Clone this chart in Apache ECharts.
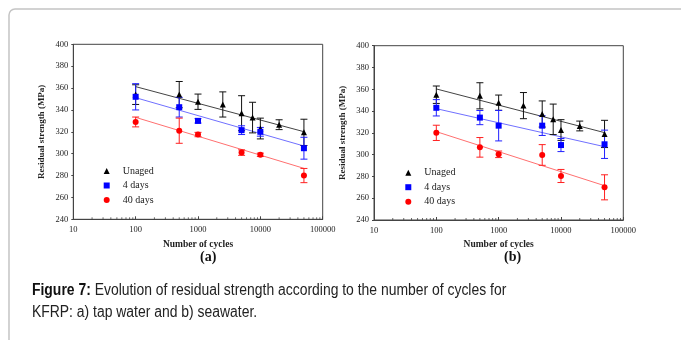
<!DOCTYPE html>
<html>
<head>
<meta charset="utf-8">
<script src="https://cdn.jsdelivr.net/npm/echarts@6/dist/echarts.min.js"></script>
<style>html,body{margin:0;padding:0;background:#fff;}#c{width:681px;height:340px;}</style>
</head>
<body>
<div id="c"></div>
<script>
// ---- data ----
const cyclesUnaged = [100, 500, 1000, 2500, 5000, 7500, 10000, 20000, 50000];
const cyclesAged = [100, 500, 1000, 5000, 10000, 50000];
const trendCycles = [100, 50000];

// (a) tap water
const unagedA = [354, 354, 347.5, 345, 337, 333, 323, 326.5, 319.5];
const unagedErrA = [9, 12, 7, 11.5, 16, 14, 9.5, 4.5, 12];
const days4A = [352, 342.5, 330, 321.5, 320, 305];
const days4ErrA = [12, 9, 2, 4, 4, 10];
const days40A = [329, 321, 317.5, 301, 299, 280];
const days40ErrA = [4.5, 11.5, 2, 2.5, 1.5, 6.5];
const trendUnagedA = [361.3, 320.1];
const trend4A = [351.2, 307.0];
const trend40A = [333.2, 286.6];

// (b) seawater
const unagedB = [355, 354, 347.7, 345, 337.3, 332.4, 322.6, 326.3, 319];
const unagedErrB = [8, 12, 7, 12, 12, 14, 9.5, 4.5, 12.5];
const days4B = [343, 334, 326.6, 326.6, 308.8, 309.5];
const days4ErrB = [7.5, 6.5, 14, 9, 6, 13];
const days40B = [320, 306.7, 300.3, 299.7, 280.4, 270];
const days40ErrB = [7, 9, 3, 9.5, 6, 11.5];
const trendUnagedB = [360.3, 320.2];
const trend4B = [342.2, 307.3];
const trend40B = [321.1, 271.5];

const seriesNames = ['Unaged', '4 days', '40 days'];
const xTickMin = 10, xTickMax = 100000;
const yMin = 240, yMax = 400, yStep = 20;
const minorTicks = [];
[10, 100, 1000, 10000].forEach(d => { for (let k = 2; k <= 9; k++) minorTicks.push(d * k); });

// ---- styles ----
const SERIF = "'Liberation Serif','Times New Roman',serif";
const SANS = "'Liberation Sans',Arial,sans-serif";
const COLORS = ['#000000', '#0000ff', '#ff0000'];
const BAR_COLORS = ['#111111', '#2020ff', '#ff2020'];
const TREND_COLORS = ['#444444', '#7070ff', '#ff7070'];
const SYMBOLS = ['triangle', 'rect', 'circle'];
const SYMSIZE = [6, 6, 6];

const zip = (xs, ys) => xs.map((x, i) => [x, ys[i]]);
const errData = (xs, ys, es) => xs.map((x, i) => [x, ys[i] - es[i], ys[i] + es[i]]);

function errSeries(idx, xs, ys, es, color) {
  return {
    type: 'custom', xAxisIndex: idx, yAxisIndex: idx, z: 3, silent: true,
    data: errData(xs, ys, es),
    encode: { x: 0, y: [1, 2] },
    renderItem: function (params, api) {
      const x = api.value(0);
      const lo = api.coord([x, api.value(1)]);
      const hi = api.coord([x, api.value(2)]);
      const h = 3.5;
      const st = { stroke: color, lineWidth: 1 };
      return {
        type: 'group', children: [
          { type: 'line', shape: { x1: lo[0], y1: lo[1], x2: hi[0], y2: hi[1] }, style: st },
          { type: 'line', shape: { x1: lo[0] - h, y1: lo[1], x2: lo[0] + h, y2: lo[1] }, style: st },
          { type: 'line', shape: { x1: hi[0] - h, y1: hi[1], x2: hi[0] + h, y2: hi[1] }, style: st }
        ]
      };
    }
  };
}
function minorTickSeries(idx) {
  return {
    type: 'custom', xAxisIndex: idx, yAxisIndex: idx, z: 5, silent: true,
    data: minorTicks.map(v => [v, yMin]),
    renderItem: function (params, api) {
      const p = api.coord([api.value(0), api.value(1)]);
      return { type: 'line', shape: { x1: p[0], y1: p[1], x2: p[0], y2: p[1] - 2 }, style: { stroke: '#444', lineWidth: 0.8 } };
    }
  };
}
function trendSeries(idx, vals, color) {
  return {
    type: 'line', xAxisIndex: idx, yAxisIndex: idx, z: 2, silent: true,
    data: zip(trendCycles, vals), showSymbol: false, symbol: 'none',
    lineStyle: { color: color, width: 1 }
  };
}
function scatterSeries(idx, si, xs, ys) {
  return {
    type: 'scatter', name: seriesNames[si], xAxisIndex: idx, yAxisIndex: idx, z: 4,
    symbol: SYMBOLS[si], symbolSize: SYMSIZE[si],
    itemStyle: { color: COLORS[si], opacity: 1 },
    data: zip(xs, ys)
  };
}
function panelSeries(idx, u, ue, d4, d4e, d40, d40e, tu, t4, t40) {
  return [
    trendSeries(idx, tu, TREND_COLORS[0]),
    trendSeries(idx, t4, TREND_COLORS[1]),
    trendSeries(idx, t40, TREND_COLORS[2]),
    errSeries(idx, cyclesUnaged, u, ue, BAR_COLORS[0]),
    errSeries(idx, cyclesAged, d4, d4e, BAR_COLORS[1]),
    errSeries(idx, cyclesAged, d40, d40e, BAR_COLORS[2]),
    scatterSeries(idx, 0, cyclesUnaged, u),
    scatterSeries(idx, 1, cyclesAged, d4),
    scatterSeries(idx, 2, cyclesAged, d40),
    minorTickSeries(idx)
  ];
}

const axisLine = { show: true, lineStyle: { color: '#444', width: 1 } };
const labelStyle = { fontFamily: SERIF, fontSize: 8.5, color: '#222' };
function xAxis(gi) {
  return {
    type: 'log', logBase: 10, gridIndex: gi, min: xTickMin, max: xTickMax,
    name: 'Number of cycles', nameLocation: 'middle', nameGap: 17,
    nameTextStyle: { fontFamily: SERIF, fontWeight: 'bold', fontSize: 9.5, color: '#222' },
    axisLine: axisLine, axisTick: { show: true, inside: true, length: 3, lineStyle: { color: '#444' } },
    axisLabel: Object.assign({ margin: 6, formatter: v => String(Math.round(v)) }, labelStyle),
    splitLine: { show: false }
  };
}
function yAxis(gi) {
  return {
    type: 'value', gridIndex: gi, min: yMin, max: yMax, interval: yStep,
    name: 'Residual strength (MPa)', nameLocation: 'middle', nameGap: 27,
    nameTextStyle: { fontFamily: SERIF, fontWeight: 'bold', fontSize: 9, color: '#222' },
    axisLine: axisLine, axisTick: { show: true, inside: false, length: 2, lineStyle: { color: '#444' } },
    axisLabel: Object.assign({ margin: 5 }, labelStyle),
    splitLine: { show: false }
  };
}
function legend(left, top) {
  return {
    data: seriesNames.map((n, i) => ({ name: n, icon: SYMBOLS[i] === 'rect' ? 'rect' : SYMBOLS[i] })),
    orient: 'vertical', left: left, top: top, padding: 0,
    itemWidth: 6, itemHeight: 6, itemGap: 2.5, selectedMode: false,
    textStyle: { fontFamily: SERIF, fontSize: 10, color: '#222', lineHeight: 12, padding: [0, 0, 0, 8] }
  };
}

const chart = echarts.init(document.getElementById('c'), null, { renderer: 'canvas' });
chart.setOption({
  backgroundColor: '#fff',
  animation: false,
  grid: [
    { left: 73.3, top: 44.3, width: 249.4, height: 175, show: true, borderColor: '#444', borderWidth: 1 },
    { left: 374, top: 45.7, width: 249.3, height: 174.3, show: true, borderColor: '#444', borderWidth: 1 }
  ],
  xAxis: [xAxis(0), xAxis(1)],
  yAxis: [yAxis(0), yAxis(1)],
  legend: [legend(103.7, 165), legend(405.3, 166.7)],
  series: [].concat(
    panelSeries(0, unagedA, unagedErrA, days4A, days4ErrA, days40A, days40ErrA, trendUnagedA, trend4A, trend40A),
    panelSeries(1, unagedB, unagedErrB, days4B, days4ErrB, days40B, days40ErrB, trendUnagedB, trend4B, trend40B)
  ),
  graphic: [
    { type: 'rect', z: 0, shape: { x: 9, y: 9, width: 720, height: 400, r: 6 }, style: { fill: null, stroke: '#c4c4c4', lineWidth: 1.5 } },
    { type: 'text', left: 200, top: 250, style: { text: '(a)', font: "bold 14px " + SERIF, fill: '#111' } },
    { type: 'text', left: 504, top: 250, style: { text: '(b)', font: "bold 14px " + SERIF, fill: '#111' } },
    { type: 'text', x: 32, y: 280, scaleX: 0.87, originX: 0, originY: 0, style: {
        text: '{b|Figure 7:} Evolution of residual strength according to the number of cycles for\nKFRP: a) tap water and b) seawater.',
        fontFamily: SANS, fontSize: 16, fill: '#222', lineHeight: 21.7, verticalAlign: 'top', align: 'left',
        rich: { b: { fontWeight: 'bold', fontFamily: SANS, fontSize: 16, fill: '#111', lineHeight: 21.7 } }
    } }
  ]
});
</script>
</body>
</html>
